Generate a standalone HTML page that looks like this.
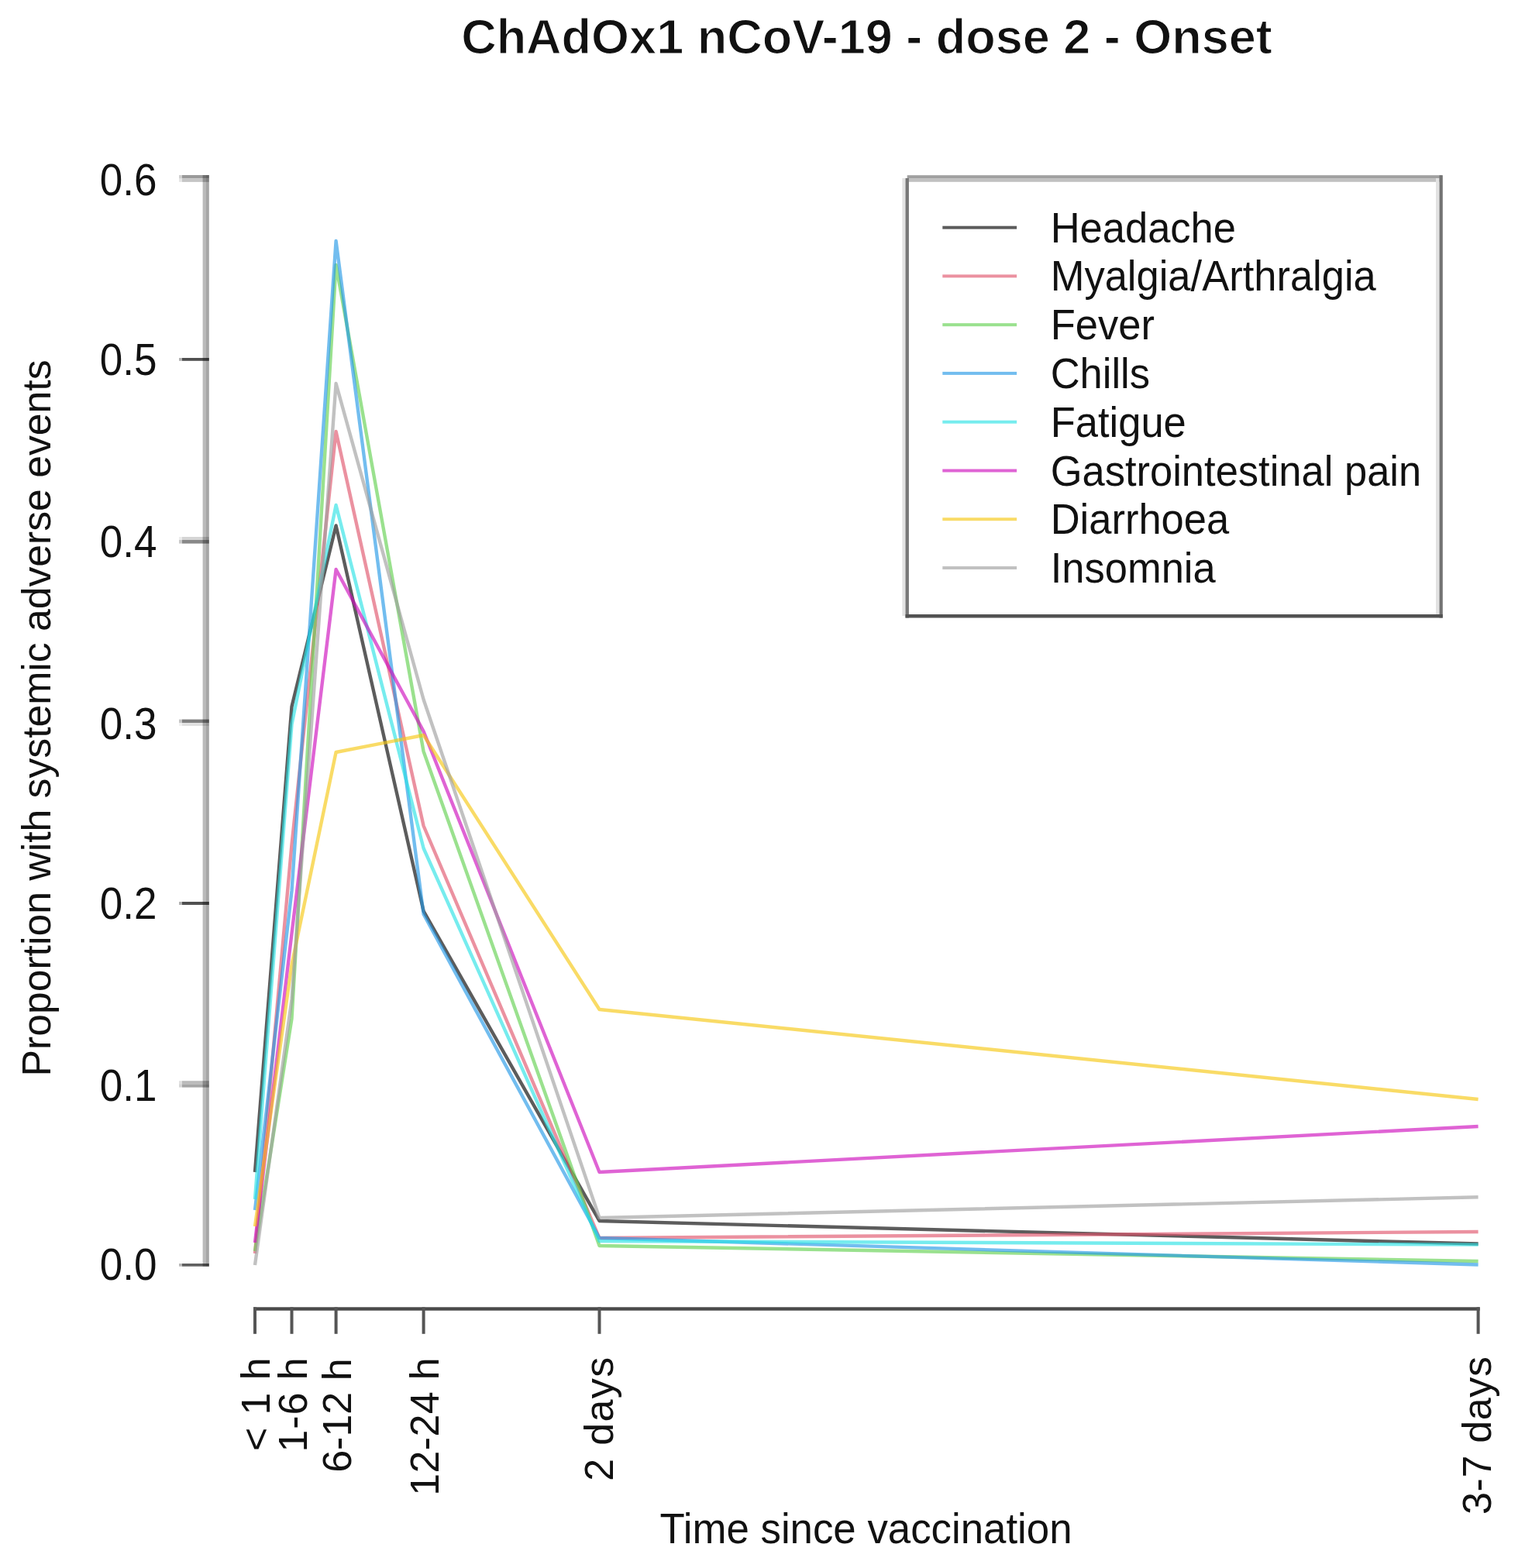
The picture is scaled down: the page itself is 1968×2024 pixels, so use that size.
<!DOCTYPE html>
<html><head><meta charset="utf-8"><title>ChAdOx1 nCoV-19 - dose 2 - Onset</title>
<style>
html,body{margin:0;padding:0;background:#fff;}
body{width:1968px;height:2024px;overflow:hidden;}
svg{display:block;}
text{font-family:"Liberation Sans", Arial, sans-serif;fill:#111;}
</style></head><body>
<svg width="1968" height="2024" viewBox="0 0 1968 2024">
<rect x="0" y="0" width="1968" height="2024" fill="#fff"/>

<text x="1118.5" y="68.5" font-size="63" font-weight="bold" text-anchor="middle" stroke="#fff" stroke-width="1.2">ChAdOx1 nCoV-19 - dose 2 - Onset</text>
<rect x="231" y="1631" width="4" height="3.7" fill="#606060" fill-opacity="0.45"/>
<rect x="235" y="1631" width="34.8" height="3.7" fill="#606060"/>
<text transform="translate(202.5,1652.2) scale(1.02,1.1)" font-size="52" text-anchor="end">0.0</text>
<rect x="231" y="1395.2" width="4" height="4.2" fill="#bbbbbb" fill-opacity="0.45"/>
<rect x="235" y="1395.2" width="34.8" height="4.2" fill="#bbbbbb"/>
<rect x="231" y="1399.4" width="4" height="4.2" fill="#a5a5a5" fill-opacity="0.45"/>
<rect x="235" y="1399.4" width="34.8" height="4.2" fill="#a5a5a5"/>
<text transform="translate(202.5,1421) scale(1.02,1.1)" font-size="52" text-anchor="end">0.1</text>
<rect x="231" y="1164" width="4" height="4" fill="#505050" fill-opacity="0.45"/>
<rect x="235" y="1164" width="34.8" height="4" fill="#505050"/>
<text transform="translate(202.5,1185.6) scale(1.02,1.1)" font-size="52" text-anchor="end">0.2</text>
<rect x="231" y="928.6" width="4" height="4.6" fill="#808080" fill-opacity="0.45"/>
<rect x="235" y="928.6" width="34.8" height="4.6" fill="#808080"/>
<rect x="231" y="933.2" width="4" height="3.8" fill="#e0e0e0" fill-opacity="0.45"/>
<rect x="235" y="933.2" width="34.8" height="3.8" fill="#e0e0e0"/>
<text transform="translate(202.5,954.4) scale(1.02,1.1)" font-size="52" text-anchor="end">0.3</text>
<rect x="231" y="693" width="4" height="4" fill="#d5d5d5" fill-opacity="0.45"/>
<rect x="235" y="693" width="34.8" height="4" fill="#d5d5d5"/>
<rect x="231" y="697" width="4" height="4.6" fill="#888888" fill-opacity="0.45"/>
<rect x="235" y="697" width="34.8" height="4.6" fill="#888888"/>
<text transform="translate(202.5,718.7) scale(1.02,1.1)" font-size="52" text-anchor="end">0.4</text>
<rect x="231" y="462" width="4" height="3.8" fill="#505050" fill-opacity="0.45"/>
<rect x="235" y="462" width="34.8" height="3.8" fill="#505050"/>
<text transform="translate(202.5,483.5) scale(1.02,1.1)" font-size="52" text-anchor="end">0.5</text>
<rect x="231" y="226" width="4" height="4.4" fill="#9a9a9a" fill-opacity="0.45"/>
<rect x="235" y="226" width="34.8" height="4.4" fill="#9a9a9a"/>
<rect x="231" y="230.4" width="4" height="4.5" fill="#c5c5c5" fill-opacity="0.45"/>
<rect x="235" y="230.4" width="34.8" height="4.5" fill="#c5c5c5"/>
<text transform="translate(202.5,252.2) scale(1.02,1.1)" font-size="52" text-anchor="end">0.6</text>
<rect x="261.6" y="226" width="4.2" height="1408.7" fill="#bababa" style="mix-blend-mode:multiply"/>
<rect x="265.8" y="226" width="4.0" height="1408.7" fill="#a5a5a5" style="mix-blend-mode:multiply"/>
<rect x="327" y="1687.3" width="1582.8" height="4.4" fill="#4a4a4a"/>
<rect x="327" y="1687.3" width="4" height="34.5" fill="#555"/>
<text transform="translate(348,1752.3) rotate(-90)" font-size="52" text-anchor="end" textLength="120.8" lengthAdjust="spacing">&lt; 1 h</text>
<rect x="374.5" y="1687.3" width="4" height="34.5" fill="#555"/>
<text transform="translate(395.5,1752.3) rotate(-90)" font-size="52" text-anchor="end" textLength="122.2" lengthAdjust="spacing">1-6 h</text>
<rect x="431.6" y="1687.3" width="4" height="34.5" fill="#555"/>
<text transform="translate(452.6,1753.4) rotate(-90)" font-size="52" text-anchor="end">6-12 h</text>
<rect x="544.6" y="1687.3" width="4" height="34.5" fill="#555"/>
<text transform="translate(565.6,1752.3) rotate(-90)" font-size="52" text-anchor="end" textLength="178.4" lengthAdjust="spacing">12-24 h</text>
<rect x="771.5" y="1687.3" width="4" height="34.5" fill="#555"/>
<text transform="translate(791,1751.8) rotate(-90)" font-size="52" text-anchor="end" textLength="160" lengthAdjust="spacing">2 days</text>
<rect x="1905.6" y="1687.3" width="4" height="34.5" fill="#555"/>
<text transform="translate(1923.6,1751) rotate(-90)" font-size="52" text-anchor="end" textLength="204" lengthAdjust="spacing">3-7 days</text>
<text transform="translate(1117.5,1992) scale(1,1.04)" font-size="52.8" text-anchor="middle">Time since vaccination</text>
<text transform="translate(65,927) rotate(-90)" font-size="51.7" text-anchor="middle">Proportion with systemic adverse events</text>
<polyline points="329,1513 376.5,912 433.6,678.5 546.6,1176 773.5,1576 1907.6,1605.5" fill="none" stroke="#000000" stroke-opacity="0.64" stroke-width="4.4" stroke-linejoin="round"/>
<polyline points="329,1618 376.5,1090 433.6,557 546.6,1066 773.5,1598 1907.6,1590" fill="none" stroke="#DF536B" stroke-opacity="0.64" stroke-width="4.4" stroke-linejoin="round"/>
<polyline points="329,1615 376.5,1315 433.6,342 546.6,970 773.5,1608 1907.6,1628" fill="none" stroke="#61D04F" stroke-opacity="0.64" stroke-width="4.4" stroke-linejoin="round"/>
<polyline points="329,1562 376.5,1150 433.6,311 546.6,1180 773.5,1598 1907.6,1632.5" fill="none" stroke="#2297E6" stroke-opacity="0.64" stroke-width="4.4" stroke-linejoin="round"/>
<polyline points="329,1548 376.5,935 433.6,652 546.6,1095 773.5,1602 1907.6,1606.6" fill="none" stroke="#28E2E5" stroke-opacity="0.64" stroke-width="4.4" stroke-linejoin="round"/>
<polyline points="329,1604 376.5,1205 433.6,735 546.6,944 773.5,1513 1907.6,1454" fill="none" stroke="#CD0BBC" stroke-opacity="0.64" stroke-width="4.4" stroke-linejoin="round"/>
<polyline points="329,1583 376.5,1245 433.6,971 546.6,949 773.5,1303 1907.6,1419" fill="none" stroke="#F5C710" stroke-opacity="0.64" stroke-width="4.4" stroke-linejoin="round"/>
<polyline points="329,1633 376.5,1290 433.6,495 546.6,903 773.5,1572 1907.6,1545.3" fill="none" stroke="#9E9E9E" stroke-opacity="0.64" stroke-width="4.4" stroke-linejoin="round"/>
<rect x="1170.7" y="226.2" width="690" height="4.4" fill="#a0a0a0"/>
<rect x="1170.7" y="230.6" width="690" height="4.2" fill="#c0c0c0"/>
<rect x="1164.3" y="230" width="4.2" height="565" fill="#e3e3e3"/>
<rect x="1168.5" y="230" width="4.4" height="567.5" fill="#777"/>
<rect x="1853" y="230" width="4.2" height="563" fill="#e2e2e2"/>
<rect x="1857.5" y="226.2" width="4.3" height="571.3" fill="#737373"/>
<rect x="1168.5" y="793" width="693.3" height="4.5" fill="#525252"/>
<rect x="1216.3" y="291.7" width="95.8" height="4" fill="#000000" fill-opacity="0.64"/>
<text transform="translate(1355.7,312.7) scale(1,1.04)" font-size="52.5">Headache</text>
<rect x="1216.3" y="354.4" width="95.8" height="4" fill="#DF536B" fill-opacity="0.64"/>
<text transform="translate(1355.7,375.4) scale(1,1.04)" font-size="52.5">Myalgia/Arthralgia</text>
<rect x="1216.3" y="417.2" width="95.8" height="4" fill="#61D04F" fill-opacity="0.64"/>
<text transform="translate(1355.7,438.2) scale(1,1.04)" font-size="52.5">Fever</text>
<rect x="1216.3" y="479.9" width="95.8" height="4" fill="#2297E6" fill-opacity="0.64"/>
<text transform="translate(1355.7,500.9) scale(1,1.04)" font-size="52.5">Chills</text>
<rect x="1216.3" y="542.7" width="95.8" height="4" fill="#28E2E5" fill-opacity="0.64"/>
<text transform="translate(1355.7,563.7) scale(1,1.04)" font-size="52.5">Fatigue</text>
<rect x="1216.3" y="605.5" width="95.8" height="4" fill="#CD0BBC" fill-opacity="0.64"/>
<text transform="translate(1355.7,626.5) scale(1,1.04)" font-size="52.5">Gastrointestinal pain</text>
<rect x="1216.3" y="668.2" width="95.8" height="4" fill="#F5C710" fill-opacity="0.64"/>
<text transform="translate(1355.7,689.2) scale(1,1.04)" font-size="52.5">Diarrhoea</text>
<rect x="1216.3" y="731" width="95.8" height="4" fill="#9E9E9E" fill-opacity="0.64"/>
<text transform="translate(1355.7,752) scale(1,1.04)" font-size="52.5">Insomnia</text>
</svg></body></html>
